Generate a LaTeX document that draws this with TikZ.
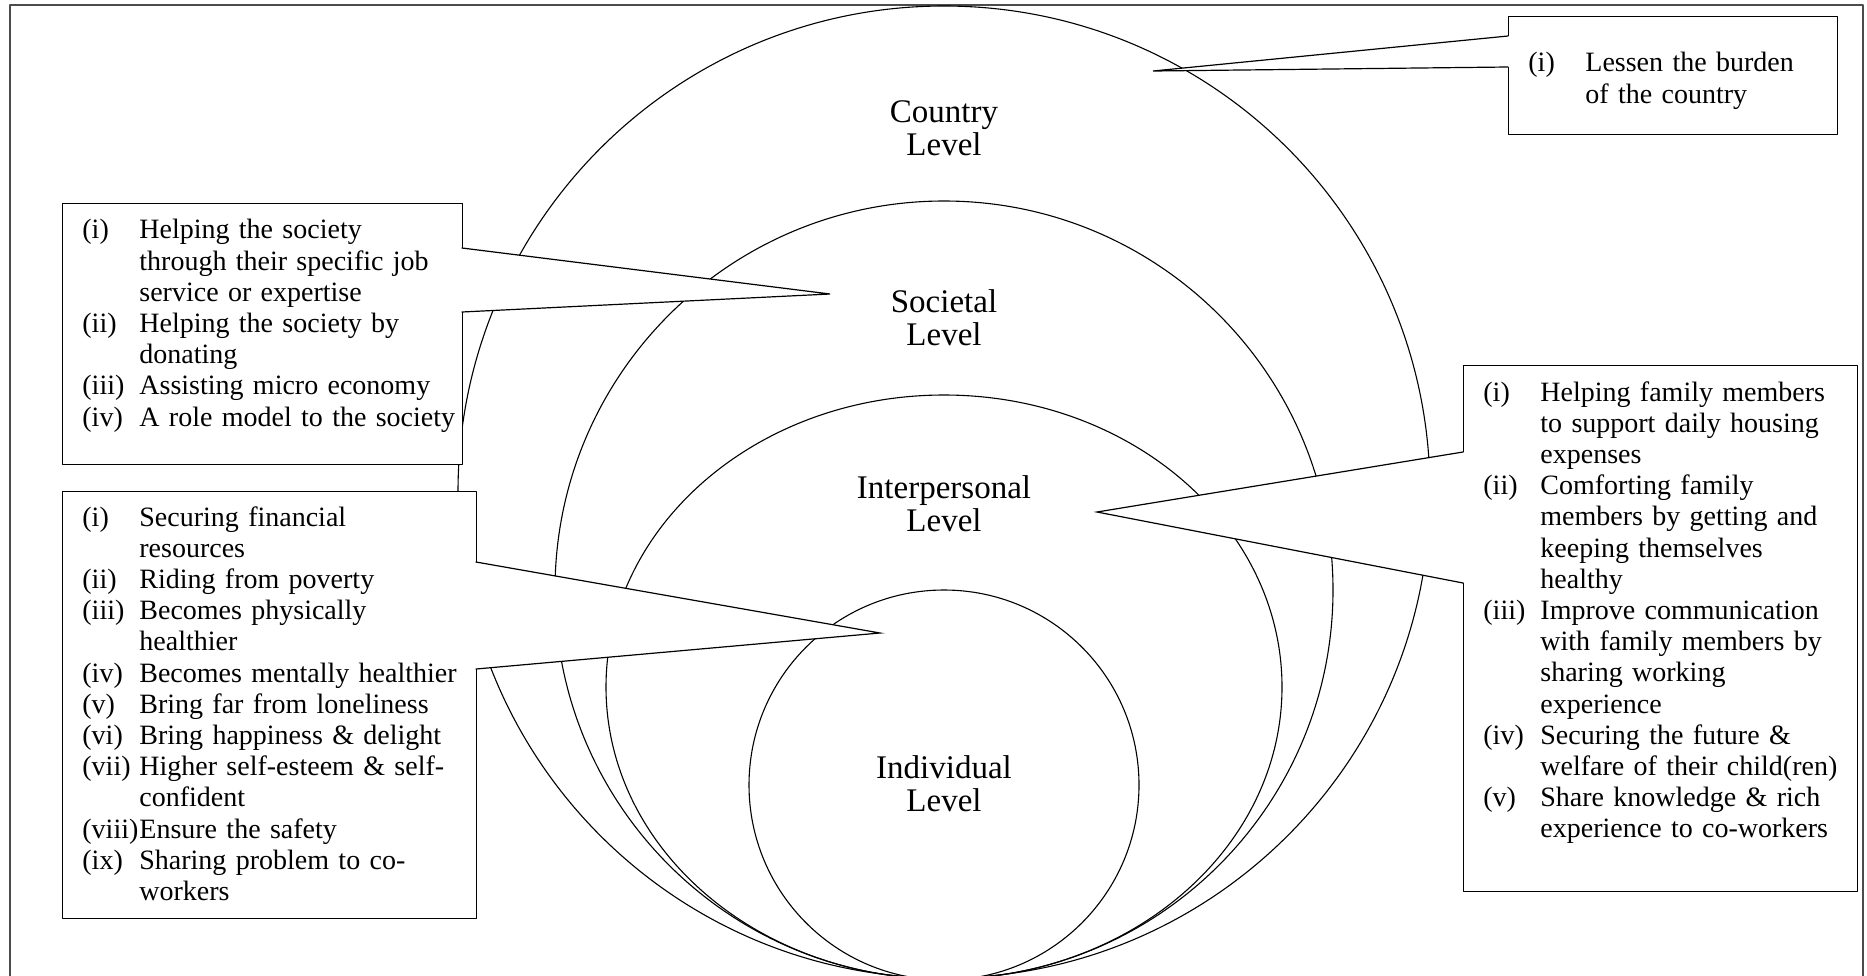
\documentclass[tikz,border=0pt]{standalone}
\usepackage{fontspec}
\setmainfont{Liberation Serif}
\usetikzlibrary{positioning}

\newcommand{\itemfont}{\fontsize{14}{15.6}\selectfont}
\newcommand{\levelfont}{\fontsize{16.5}{16.6}\selectfont}
\newlength{\lblw}
\setlength{\lblw}{28.5pt}
\newcommand{\itm}[2]{\hangindent=\lblw\hangafter=1\noindent\makebox[\lblw][l]{#1}#2\par}

\tikzset{
  level ring/.style={draw=black, line width=0.55pt},
  callout box/.style={draw=black, fill=white, line width=0.6pt, inner sep=0pt, anchor=north west},
  item text/.style={inner sep=0pt, anchor=north west, align=left, text width=260pt, font=\itemfont},
  level text/.style={align=center, inner sep=0pt, font=\levelfont},
  pointer line/.style={draw=black, line width=0.6pt, line join=miter},
  frame line/.style={draw=black!70, line width=0.6pt},
}

\begin{document}
\begin{tikzpicture}
\def\pxsz{0.5pt}
\begin{scope}[x=\pxsz, y=-\pxsz, line cap=round, line join=round]
  \useasboundingbox (0,0) rectangle (1867,975);
  \clip (0,0) rectangle (1867,975);
  % Outer frame
  \draw[frame line] (10,5) rectangle (1863,995);
  % Level rings, all touching at the bottom
  \draw[level ring] (944,492) ellipse [x radius=486, y radius=486];
  \draw[level ring] (944,590) ellipse [x radius=389, y radius=389];
  \draw[level ring] (944,687) ellipse [x radius=338, y radius=292];
  \draw[level ring] (944,785) ellipse [x radius=195, y radius=195];
  % Level names
  \node[level text] (country) at (944,128) {Country\\Level};
  \node[level text] (societal) at (944,318) {Societal\\Level};
  \node[level text] (interpersonal) at (944,504) {Interpersonal\\Level};
  \node[level text] (individual) at (944,784) {Individual\\Level};

  % Country callout
  \node[callout box, minimum width=164.5pt, minimum height=59pt] (country-box) at (1508,16) {};
  \coordinate (country-b1) at (1508,36);
  \coordinate (country-b2) at (1508,67);
  \coordinate (country-tip) at (1153,71);
  \fill[white] ([xshift=1pt]country-b1) -- (country-tip) -- ([xshift=1pt]country-b2) -- cycle;
  \draw[pointer line] (country-b1) -- (country-tip) -- (country-b2);
  \node[item text] (country-text) at (1528,52) {%
    \itm{(i)}{Lessen the burden\newline of the country}};

  % Societal callout
  \node[callout box, minimum width=200pt, minimum height=130.5pt] (societal-box) at (62,203) {};
  \coordinate (societal-b1) at (462,248);
  \coordinate (societal-b2) at (462,312);
  \coordinate (societal-tip) at (830,294);
  \fill[white] ([xshift=-1pt]societal-b1) -- (societal-tip) -- ([xshift=-1pt]societal-b2) -- cycle;
  \draw[pointer line] (societal-b1) -- (societal-tip) -- (societal-b2);
  \node[item text] (societal-text) at (82,219) {%
    \itm{(i)}{Helping the society\newline through their specific job\newline service or expertise}
    \itm{(ii)}{Helping the society by\newline donating}
    \itm{(iii)}{Assisting micro economy}
    \itm{(iv)}{A role model to the society}};

  % Individual callout
  \node[callout box, minimum width=207pt, minimum height=213.5pt] (individual-box) at (62,491) {};
  \coordinate (individual-b1) at (476,562);
  \coordinate (individual-b2) at (476,669);
  \coordinate (individual-tip) at (880,633);
  \fill[white] ([xshift=-1pt]individual-b1) -- (individual-tip) -- ([xshift=-1pt]individual-b2) -- cycle;
  \draw[pointer line] (individual-b1) -- (individual-tip) -- (individual-b2);
  \node[item text] (individual-text) at (82,506) {%
    \itm{(i)}{Securing financial\newline resources}
    \itm{(ii)}{Riding from poverty}
    \itm{(iii)}{Becomes physically\newline healthier}
    \itm{(iv)}{Becomes mentally healthier}
    \itm{(v)}{Bring far from loneliness}
    \itm{(vi)}{Bring happiness \& delight}
    \itm{(vii)}{Higher self-esteem \& self-\newline confident}
    \itm{(viii)}{Ensure the safety}
    \itm{(ix)}{Sharing problem to co-\newline workers}};

  % Interpersonal callout
  \node[callout box, minimum width=197pt, minimum height=263pt] (interpersonal-box) at (1463,365) {};
  \coordinate (interpersonal-b1) at (1463,452);
  \coordinate (interpersonal-b2) at (1463,583);
  \coordinate (interpersonal-tip) at (1097,512);
  \fill[white] ([xshift=1pt]interpersonal-b1) -- (interpersonal-tip) -- ([xshift=1pt]interpersonal-b2) -- cycle;
  \draw[pointer line] (interpersonal-b1) -- (interpersonal-tip) -- (interpersonal-b2);
  \node[item text] (interpersonal-text) at (1483,381) {%
    \itm{(i)}{Helping family members\newline to support daily housing\newline expenses}
    \itm{(ii)}{Comforting family\newline members by getting and\newline keeping themselves\newline healthy}
    \itm{(iii)}{Improve communication\newline with family members by\newline sharing working\newline experience}
    \itm{(iv)}{Securing the future \&\newline welfare of their child(ren)}
    \itm{(v)}{Share knowledge \& rich\newline experience to co-workers}};
\end{scope}
\end{tikzpicture}
\end{document}
